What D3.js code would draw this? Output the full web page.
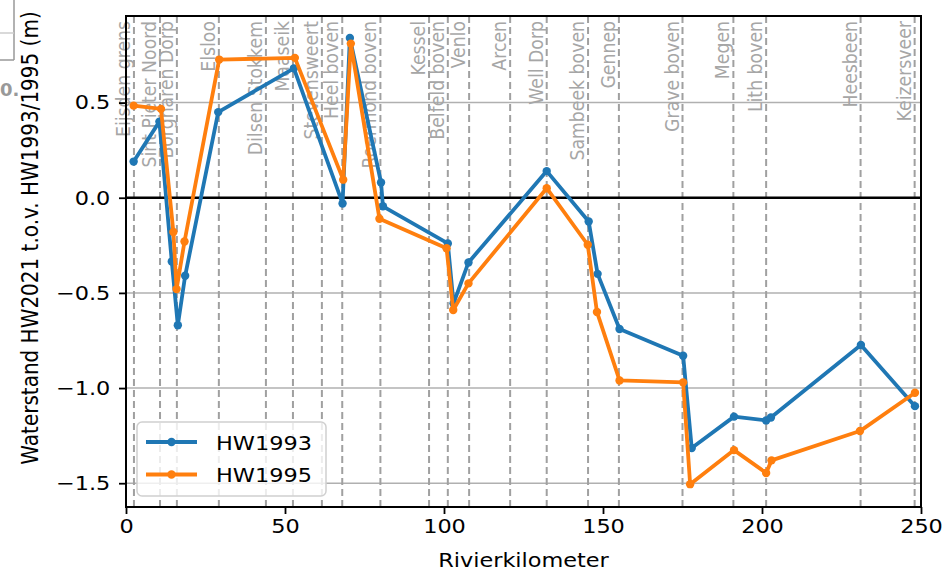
<!DOCTYPE html>
<html>
<head>
<meta charset="utf-8">
<script src="https://cdn.jsdelivr.net/npm/d3@7"></script>
<style>
  body { margin: 0; background: #fff; }
  svg { display: block; font-family: "DejaVu Sans", sans-serif; }
</style>
</head>
<body>
<script>
// station names and their river km (vertical dashed lines)
const stations = ["Eijsden grens", "Sint Pieter Noord", "Borgharen Dorp", "Elsloo", "Dilsen Stokkem",
  "Maaseik", "Stevensweert", "Heel boven", "Roermond boven", "Kessel", "Belfeld boven", "Venlo",
  "Arcen", "Well Dorp", "Sambeek boven", "Gennep", "Grave boven", "Megen", "Lith boven",
  "Heesbeen", "Keizersveer"];
const stationKm = [2.5, 10.7, 16, 29.2, 44, 52.5, 61.6, 68, 80, 95.3, 101.2, 107.9,
  120.8, 132.3, 145.3, 155, 175, 191, 201.3, 231, 248];

// HW1993
const km1993 = [2.4, 10.5, 14.4, 16.3, 18.6, 29.0, 52.8, 68.1, 70.4, 80.2, 80.8, 101.2, 103.0,
  107.7, 132.3, 145.5, 148.3, 155.2, 175.2, 177.9, 191.2, 201.3, 202.8, 231.1, 248.1];
const hw1993 = [0.19, 0.40, -0.335, -0.67, -0.41, 0.45, 0.68, -0.03, 0.84, 0.08, -0.045, -0.24, -0.555,
  -0.34, 0.14, -0.125, -0.40, -0.69, -0.83, -1.315, -1.15, -1.17, -1.155, -0.774, -1.095];

// HW1995
const km1995 = [2.4, 11.0, 14.9, 15.9, 18.4, 29.3, 53.1, 68.3, 70.7, 79.7, 100.8, 102.9,
  107.7, 132.3, 145.2, 148.1, 155.2, 175.2, 177.4, 191.2, 201.3, 203.0, 230.8, 248.1];
const hw1995 = [0.484, 0.467, -0.18, -0.48, -0.23, 0.726, 0.735, 0.095, 0.81, -0.11, -0.265, -0.59,
  -0.45, 0.05, -0.247, -0.60, -0.96, -0.97, -1.505, -1.326, -1.446, -1.38, -1.226, -1.025];

const xTicks = [0, 50, 100, 150, 200, 250];
const yTicks = [-1.5, -1.0, -0.5, 0.0, 0.5];

const W = 943, H = 572;
const pL = 126, pR = 921, pT = 16, pB = 507;
const sx = 1.12; // horizontal text stretch

const x = d3.scaleLinear().domain([0, 250]).range([pL, pR]);
const y = d3.scaleLinear().domain([-1.625, 0.955]).range([pB, pT]);

const svg = d3.select("body").append("svg")
  .attr("width", W).attr("height", H);

// leftover bit of a neighbouring figure at top-left
svg.append("line").attr("x1", 14).attr("x2", 14).attr("y1", 0).attr("y2", 60)
  .attr("stroke", "#999").attr("stroke-width", 1.5);
svg.append("line").attr("x1", 0).attr("x2", 14).attr("y1", 33).attr("y2", 33)
  .attr("stroke", "#ccc").attr("stroke-width", 1.5);
svg.append("line").attr("x1", 0).attr("x2", 14).attr("y1", 60).attr("y2", 60)
  .attr("stroke", "#999").attr("stroke-width", 1.5);
svg.append("text").attr("x", 0).attr("y", 96).attr("font-size", 18).attr("font-weight", "bold")
  .attr("fill", "#999").text("0.");

// horizontal grid
svg.append("g").selectAll("line").data(yTicks).join("line")
  .attr("x1", pL).attr("x2", pR)
  .attr("y1", d => y(d)).attr("y2", d => y(d))
  .attr("stroke", "#b0b0b0").attr("stroke-width", 1.5);

// station lines
svg.append("g").selectAll("line").data(stationKm).join("line")
  .attr("x1", d => x(d)).attr("x2", d => x(d))
  .attr("y1", pT).attr("y2", pB)
  .attr("stroke", "#a0a0a0").attr("stroke-width", 2)
  .attr("stroke-dasharray", "7,4");

// station labels
svg.append("g").selectAll("text").data(stations).join("text")
  .attr("transform", (d, i) => `translate(${x(stationKm[i]) - 4},21) rotate(-90) scale(1,${sx})`)
  .attr("text-anchor", "end")
  .attr("font-size", 17.3)
  .attr("fill", "#a6a6a6")
  .text(d => d);

// zero line
svg.append("line").attr("x1", pL).attr("x2", pR)
  .attr("y1", y(0)).attr("y2", y(0))
  .attr("stroke", "#000").attr("stroke-width", 2.5);

// series
const series = [
  { name: "HW1993", km: km1993, v: hw1993, color: "#1f77b4" },
  { name: "HW1995", km: km1995, v: hw1995, color: "#ff7f0e" }
];
const line = d3.line().x(d => x(d[0])).y(d => y(d[1]));
series.forEach(s => {
  const pts = s.km.map((k, i) => [k, s.v[i]]);
  svg.append("path").datum(pts)
    .attr("d", line).attr("fill", "none")
    .attr("stroke", s.color).attr("stroke-width", 3.8)
    .attr("stroke-linejoin", "round");
  svg.append("g").selectAll("circle").data(pts).join("circle")
    .attr("cx", d => x(d[0])).attr("cy", d => y(d[1]))
    .attr("r", 4.2).attr("fill", s.color);
});

// frame
svg.append("rect").attr("x", pL).attr("y", pT)
  .attr("width", pR - pL).attr("height", pB - pT)
  .attr("fill", "none").attr("stroke", "#000").attr("stroke-width", 2);

// axes
const xAxis = svg.append("g").attr("transform", `translate(0,${pB})`)
  .call(d3.axisBottom(x).tickValues(xTicks).tickFormat(d3.format("d")).tickSize(7).tickPadding(5));
const yAxis = svg.append("g").attr("transform", `translate(${pL},0)`)
  .call(d3.axisLeft(y).tickValues(yTicks).tickFormat(d3.format(".1f")).tickSize(7).tickPadding(7));
[xAxis, yAxis].forEach(a => {
  a.select(".domain").remove();
  a.selectAll("line").attr("stroke", "#000").attr("stroke-width", 1.8);
  a.selectAll("text").attr("font-size", 20).attr("fill", "#000")
    .attr("font-family", "DejaVu Sans").attr("transform", `scale(${sx},1)`);
});
yAxis.selectAll("text").text(d => d3.format(".1f")(d).replace("-", "\u2212"));

// axis titles
svg.append("text")
  .attr("transform", `translate(${(pL + pR) / 2},567) scale(${sx},1)`)
  .attr("text-anchor", "middle").attr("font-size", 20).text("Rivierkilometer");
svg.append("text")
  .attr("transform", `translate(38,238) rotate(-90) scale(1,${sx})`)
  .attr("text-anchor", "middle").attr("font-size", 20)
  .text("Waterstand HW2021 t.o.v. HW1993/1995 (m)");

// legend
const lg = svg.append("g").attr("transform", "translate(137,422)");
lg.append("rect").attr("width", 189).attr("height", 74).attr("rx", 5)
  .attr("fill", "#fff").attr("fill-opacity", 0.8)
  .attr("stroke", "#d0d0d0").attr("stroke-width", 1.5);
series.forEach((s, i) => {
  const yy = 20 + i * 32.5;
  lg.append("line").attr("x1", 9).attr("x2", 60).attr("y1", yy).attr("y2", yy)
    .attr("stroke", s.color).attr("stroke-width", 3.8);
  lg.append("circle").attr("cx", 34.5).attr("cy", yy).attr("r", 4.2).attr("fill", s.color);
  lg.append("text").attr("transform", `translate(79,${yy + 7.5}) scale(${sx},1)`)
    .attr("font-size", 20).text(s.name);
});
</script>
</body>
</html>
